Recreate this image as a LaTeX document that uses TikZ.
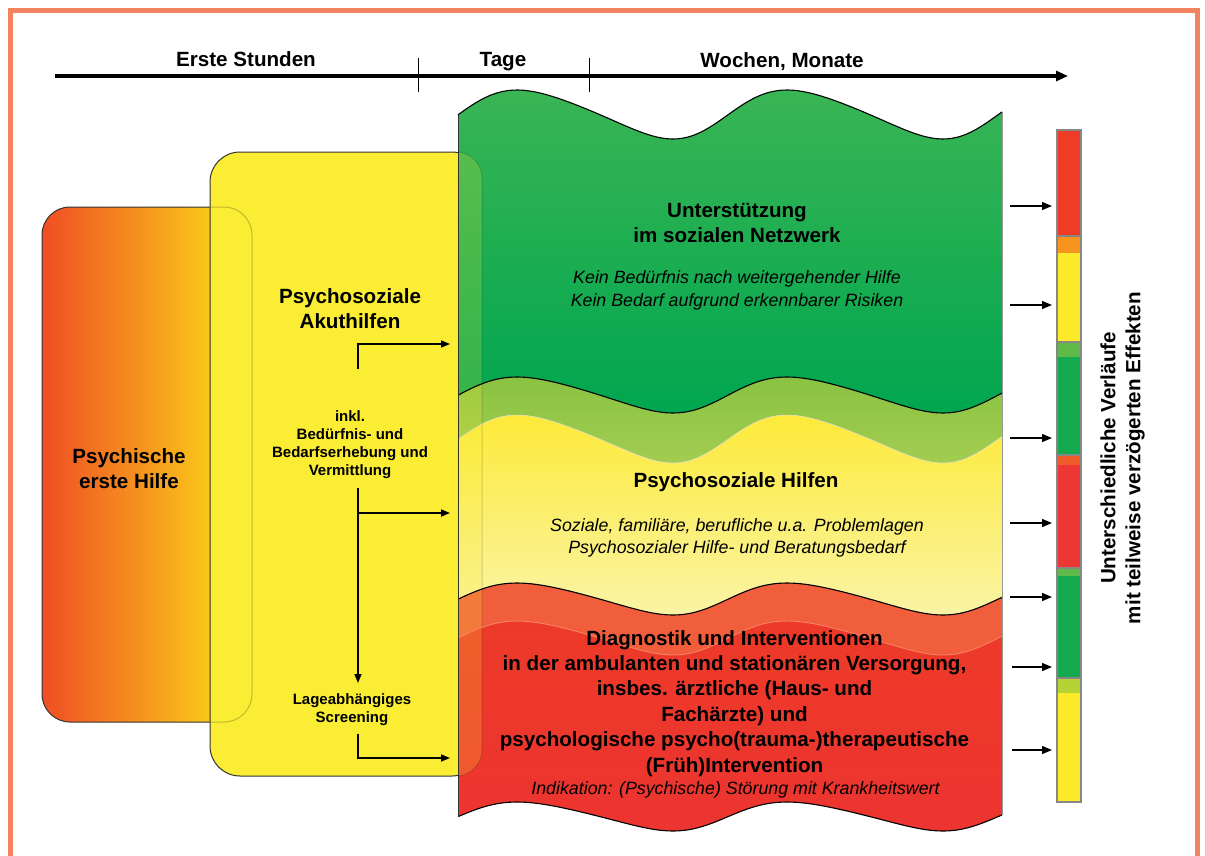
\documentclass[tikz,border=0pt]{standalone}
\usepackage{fontspec}
\setmainfont{Liberation Sans}
\usetikzlibrary{arrows.meta}
\definecolor{framec}{RGB}{244,132,95}
\definecolor{lbred}{RGB}{239,78,35}
\definecolor{lbmid}{RGB}{246,152,30}
\definecolor{lbyel}{RGB}{253,232,22}
\definecolor{yelbox}{RGB}{250,237,52}
\definecolor{gtop}{RGB}{58,181,84}
\definecolor{gbot}{RGB}{0,166,80}
\definecolor{lgtop}{RGB}{138,194,66}
\definecolor{lgbot}{RGB}{162,205,80}
\definecolor{ytop}{RGB}{253,234,58}
\definecolor{ybot}{RGB}{250,244,165}
\definecolor{oband}{RGB}{240,94,60}
\definecolor{obline}{RGB}{246,130,100}
\definecolor{rtop}{RGB}{237,58,40}
\definecolor{rbot}{RGB}{236,52,48}
\definecolor{barred}{RGB}{238,60,38}
\definecolor{barred2}{RGB}{237,55,52}
\definecolor{barorange}{RGB}{247,148,30}
\definecolor{baryel}{RGB}{253,234,42}
\definecolor{barlg}{RGB}{96,186,74}
\definecolor{bargreen}{RGB}{20,170,80}
\definecolor{barored}{RGB}{239,92,42}
\definecolor{baryg}{RGB}{181,211,52}
\definecolor{bargray}{RGB}{135,135,135}
\newcommand\fbig{\fontsize{20.6}{25}\selectfont\bfseries}
\newcommand\fsml{\fontsize{15}{18}\selectfont\bfseries}
\newcommand\fitl{\fontsize{17.8}{22.5}\selectfont\itshape}
\begin{document}
\begin{tikzpicture}[x=1pt,y=-1pt,
  declare function={wv(\xx,\cc,\aa)=\cc-\aa*cos((\xx-517)*1.333333-14.9*(1-cos((\xx-517)*1.333333)));},
  lbl/.style={inner sep=0pt,align=center,text=black},
  conn/.style={line width=1.5pt,-{Triangle[length=9pt,width=7pt]}},
  barconn/.style={line width=1.3pt,-{Triangle[length=10pt,width=8pt]}},
  waveline/.style={black,line width=1.1pt},
  seg/.style={draw=bargray,line width=2.2pt}]
\useasboundingbox (0,0) rectangle (1205,855);
\fill[white] (0,0) rectangle (1205,855);
% frame
\draw[framec,line width=5pt] (10.5,10.5) rectangle (1197.5,900);
% timeline
\coordinate (tl0) at (55,76);
\coordinate (tl1) at (1068,76);
\draw[line width=3.2pt,-{Triangle[length=12pt,width=10pt]}] (tl0) -- (tl1);
\coordinate (tk1a) at (418,58); \coordinate (tk1b) at (418,92);
\coordinate (tk2a) at (589,58); \coordinate (tk2b) at (589,92);
\draw[line width=1pt] (tk1a) -- (tk1b);
\draw[line width=1pt] (tk2a) -- (tk2b);
\node[lbl,font=\fbig,anchor=base] (t1) at (246,66) {Erste Stunden};
\node[lbl,font=\fbig,anchor=base] (t2) at (503,66) {Tage};
\node[lbl,font=\fbig,anchor=base] (t3) at (782,67) {Wochen, Monate};
% left box
\path[draw=black!80,line width=1pt,left color=lbred,right color=lbyel,middle color=lbmid,rounded corners=28pt] (42,207) rectangle (252,722);
% yellow box
\path[draw=black!80,line width=1pt,fill=yelbox,rounded corners=30pt] (210,152) rectangle (482,776);
\begin{scope}
\clip (211,150) rectangle (300,730);
\draw[black,opacity=0.22,line width=1pt,rounded corners=28pt] (42,207) rectangle (252,722);
\end{scope}
% waves
\shade[top color=gtop,bottom color=gbot]
  plot[domain=458:1002,samples=110,variable=\x] (\x,{wv(\x,114.5,24.5)})
  -- plot[domain=1002:458,samples=110,variable=\x] (\x,{wv(\x,395,18)}) -- cycle;
\shade[top color=lgtop,bottom color=lgbot]
  plot[domain=458:1002,samples=110,variable=\x] (\x,{wv(\x,395,18)})
  -- plot[domain=1002:458,samples=110,variable=\x] (\x,{wv(\x,439,24)}) -- cycle;
\shade[top color=ytop,bottom color=ybot]
  plot[domain=458:1002,samples=110,variable=\x] (\x,{wv(\x,439,24)})
  -- plot[domain=1002:458,samples=110,variable=\x] (\x,{wv(\x,599,16)}) -- cycle;
\fill[oband]
  plot[domain=458:1002,samples=110,variable=\x] (\x,{wv(\x,599,16)})
  -- plot[domain=1002:458,samples=110,variable=\x] (\x,{wv(\x,638,17)}) -- cycle;
\shade[top color=rtop,bottom color=rbot]
  plot[domain=458:1002,samples=110,variable=\x] (\x,{wv(\x,638,17)})
  -- plot[domain=1002:458,samples=110,variable=\x] (\x,{wv(\x,816.5,14.5)}) -- cycle;
% yellow box seen through the waves
\begin{scope}
\clip (458,100) rectangle (1002,840);
\path[fill=yelbox,fill opacity=0.2,draw=black,draw opacity=0.15,line width=1pt,rounded corners=26pt] (210,152) rectangle (482,776);
\end{scope}
% wave lines
\draw[waveline] plot[domain=458:1002,samples=110,variable=\x] (\x,{wv(\x,114.5,24.5)});
\draw[waveline] plot[domain=458:1002,samples=110,variable=\x] (\x,{wv(\x,395,18)});
\draw[black!15,line width=0.5pt] plot[domain=458:1002,samples=110,variable=\x] (\x,{wv(\x,439,24)});
\draw[waveline] plot[domain=458:1002,samples=110,variable=\x] (\x,{wv(\x,599,16)});
\draw[obline,line width=0.9pt] plot[domain=458:1002,samples=110,variable=\x] (\x,{wv(\x,638,17)});
\draw[waveline] plot[domain=458:1002,samples=110,variable=\x] (\x,{wv(\x,816.5,14.5)});
\coordinate (wl0) at (458,{wv(458,114.5,24.5)});
\coordinate (wl1) at (458,{wv(458,816.5,14.5)});
\coordinate (wr0) at (1002,{wv(1002,114.5,24.5)});
\coordinate (wr1) at (1002,{wv(1002,816.5,14.5)});
\draw[black!80,line width=1pt] (wl0) -- (wl1);
\draw[black!40,line width=0.8pt] (wr0) -- (wr1);
% left texts (base anchor = baseline of the last line)
\node[lbl,font=\fbig,anchor=base] (peh) at (129,488) {Psychische\\erste Hilfe};
\node[lbl,font=\fbig,anchor=base] (pak) at (350,328) {Psychosoziale\\Akuthilfen};
\node[lbl,font=\fsml,anchor=base] (inkl) at (350,475) {inkl.\\Bedürfnis- und\\Bedarfserhebung und\\Vermittlung};
\node[lbl,font=\fsml,anchor=base] (lage) at (352,722) {Lageabhängiges\\Screening};
% arrows in yellow box
\coordinate (a1s) at (358,369); \coordinate (a1e) at (450,344);
\coordinate (a2s) at (358,488); \coordinate (a2e) at (358,683);
\coordinate (a2b) at (358,513); \coordinate (a2f) at (450,513);
\coordinate (a3s) at (358,734); \coordinate (a3e) at (450,758);
\draw[conn] (a1s) |- (a1e);
\draw[conn] (a2s) -- (a2e);
\draw[conn] (a2b) -- (a2f);
\draw[conn] (a3s) |- (a3e);
% wave texts
\node[lbl,font=\fbig,anchor=base] (sn) at (737,242) {Unterstützung\\im sozialen Netzwerk};
\node[lbl,font=\fitl,anchor=base] (snsub) at (737,306) {Kein Bedürfnis nach weitergehender Hilfe\\Kein Bedarf aufgrund erkennbarer Risiken};
\node[lbl,font=\fbig,anchor=base] (ph) at (736,487) {Psychosoziale Hilfen};
\node[lbl,font=\fitl,anchor=base] (phsub) at (737,553.5) {Soziale, familiäre, berufliche u.a. Problemlagen\\Psychosozialer Hilfe- und Beratungsbedarf};
\node[lbl,font=\fontsize{20.6}{25.4}\selectfont\bfseries,anchor=base] (di) at (734.5,772) {Diagnostik und Interventionen\\in der ambulanten und stationären Versorgung,\\insbes. ärztliche (Haus- und\\Fachärzte) und\\psychologische psycho(trauma-)therapeutische\\(Früh)Intervention};
\node[lbl,font=\fitl,anchor=base] (disub) at (735.5,794) {Indikation: (Psychische) Störung mit Krankheitswert};
% right bar
\fill[barred] (1057,130) rectangle (1081,236);
\fill[barorange] (1057,236) rectangle (1081,253);
\fill[baryel] (1057,253) rectangle (1081,342);
\fill[barlg] (1057,342) rectangle (1081,357);
\fill[bargreen] (1057,357) rectangle (1081,455);
\fill[barored] (1057,455) rectangle (1081,465);
\fill[barred2] (1057,465) rectangle (1081,568);
\fill[barlg] (1057,568) rectangle (1081,576);
\fill[bargreen] (1057,576) rectangle (1081,678);
\fill[baryg] (1057,678) rectangle (1081,693);
\fill[baryel] (1057,693) rectangle (1081,802);
\path[seg] (1057,130) rectangle (1081,236);
\path[seg] (1057,236) rectangle (1081,342);
\path[seg] (1057,342) rectangle (1081,455);
\path[seg] (1057,455) rectangle (1081,568);
\path[seg] (1057,568) rectangle (1081,678);
\path[seg] (1057,678) rectangle (1081,802);
\foreach \yy/\xs [count=\i] in {206/1010,305/1010,438/1010,523/1010,597/1010,667/1012,750/1012}{
  \coordinate (bs\i) at (\xs,\yy);
  \coordinate (be\i) at (1052,\yy);
  \draw[barconn] (bs\i) -- (be\i);
}
\node[lbl,font=\fbig,rotate=90] (vt) at (1122.5,458) {Unterschiedliche Verläufe\\mit teilweise verzögerten Effekten};
\end{tikzpicture}
\end{document}
